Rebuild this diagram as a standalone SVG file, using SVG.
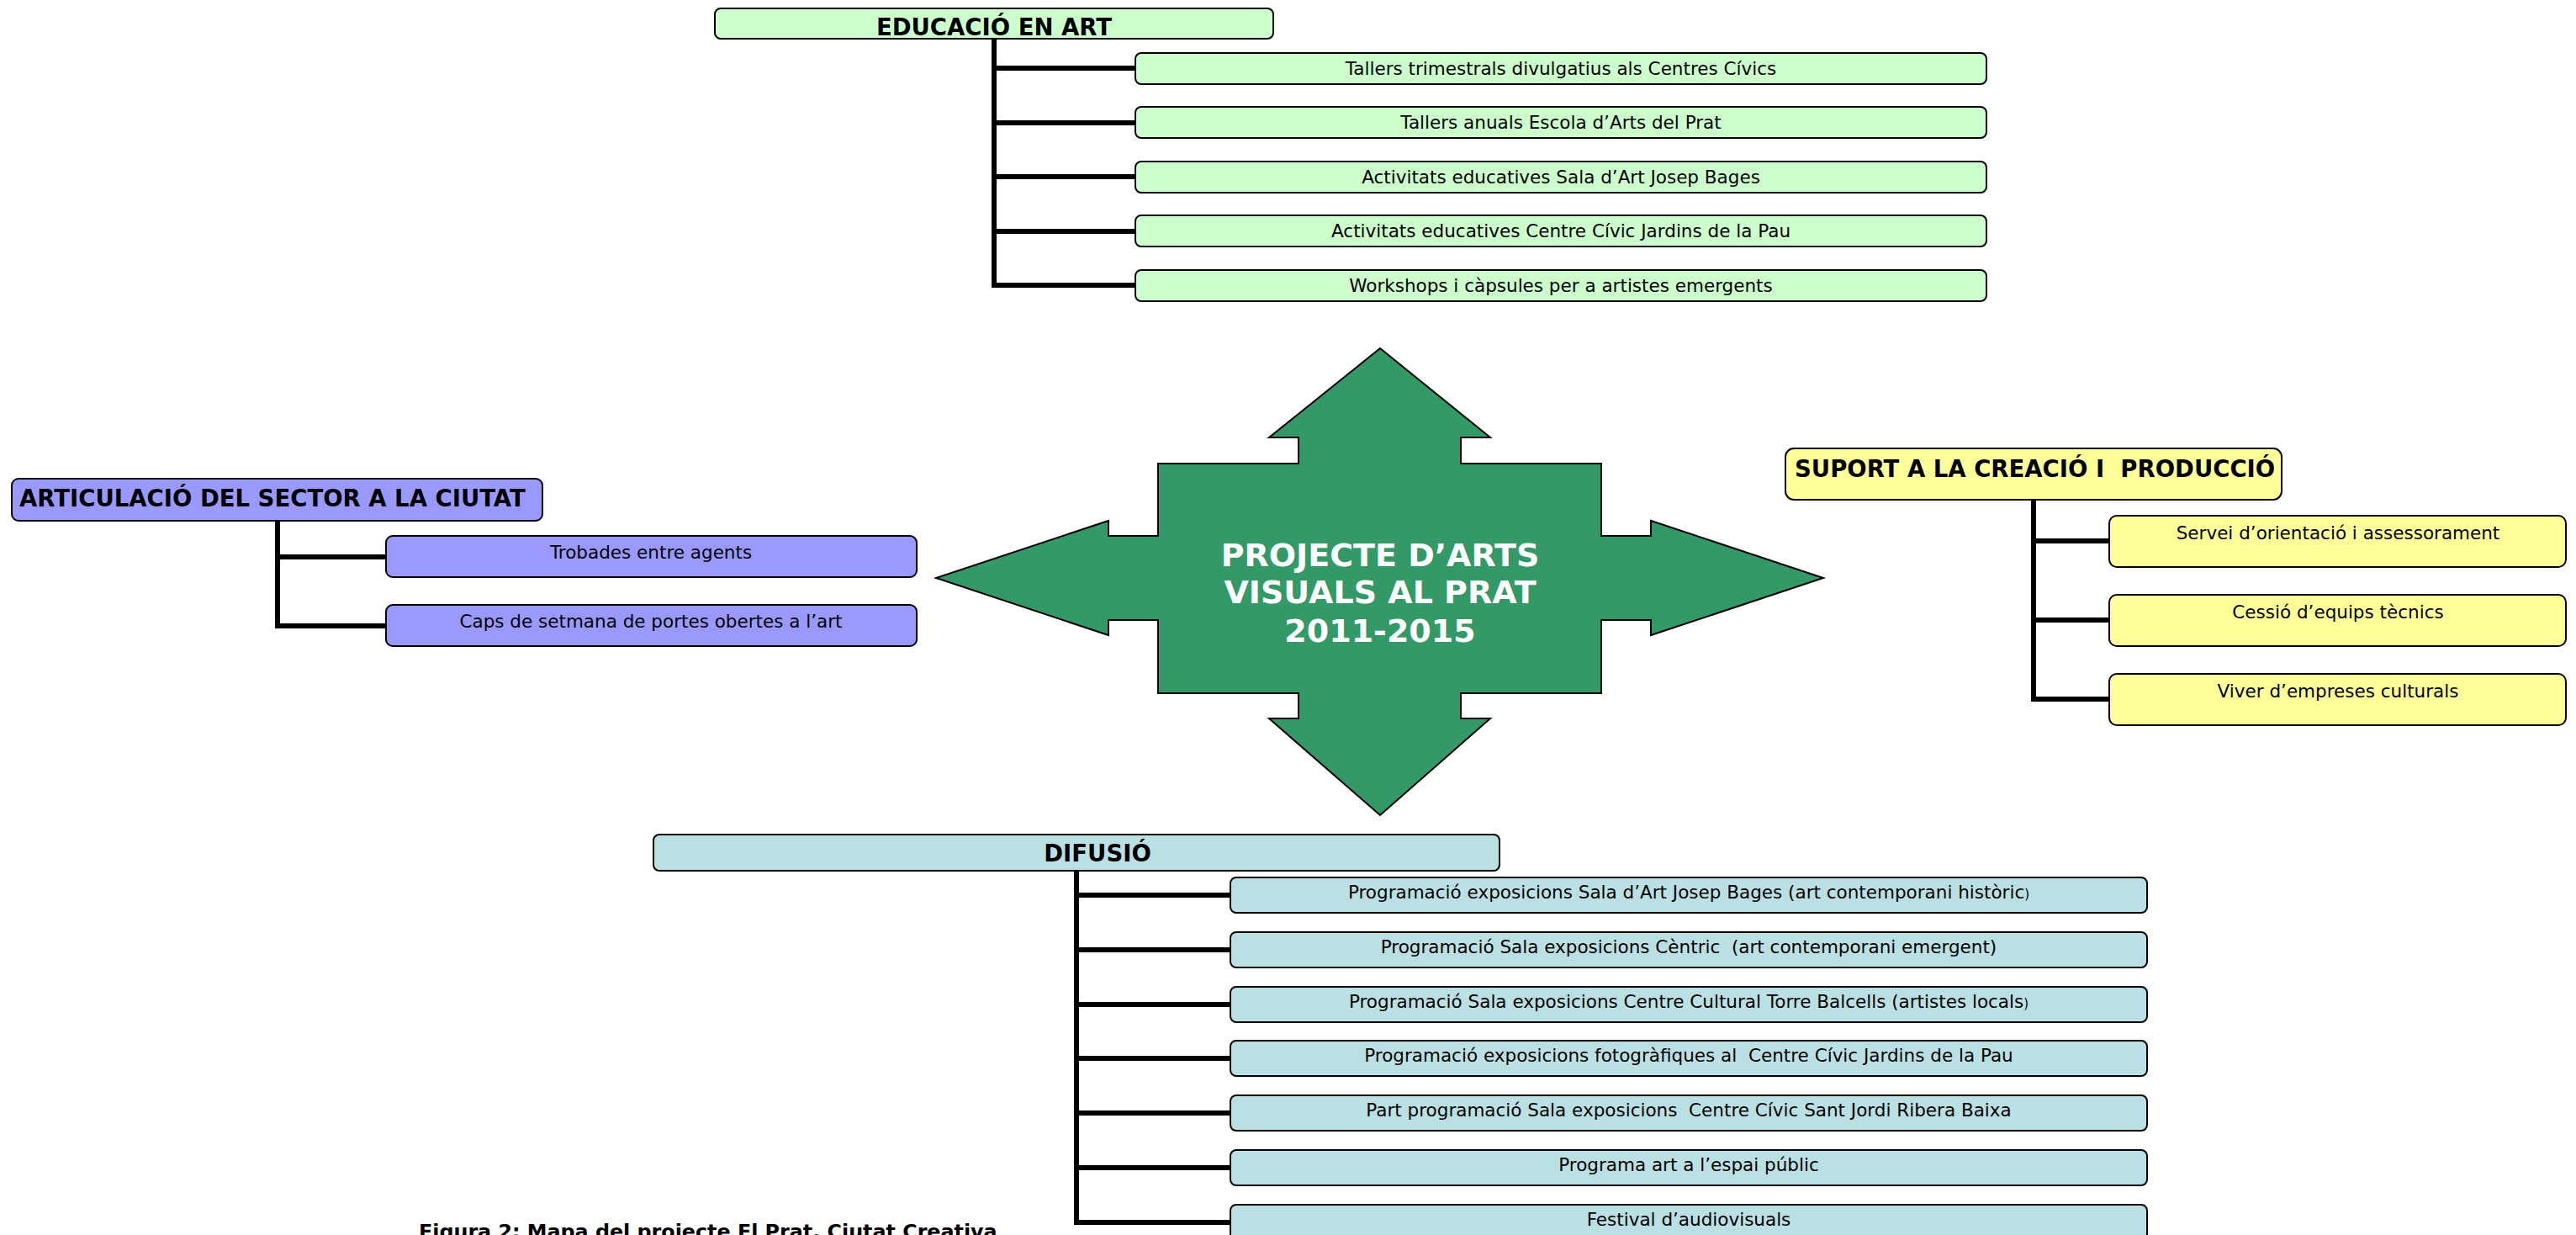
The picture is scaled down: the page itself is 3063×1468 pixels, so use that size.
<svg xmlns="http://www.w3.org/2000/svg" width="3063" height="1468" viewBox="0 0 3063 1468">
<style>
text{font-family:"DejaVu Sans","Verdana",sans-serif;fill:#000;white-space:pre}
.h{font-weight:bold;font-size:27.5px}
.c{font-size:21.5px;text-anchor:middle}
.box{stroke:#000;stroke-width:2}
.edu{fill:#CCFFCC}
.art{fill:#9999FF}
.sup{fill:#FFFF99}
.dif{fill:#BBE0E3}
.conn line{stroke:#000;stroke-width:6}
.ctr{font-weight:bold;font-size:38px;fill:#fff;text-anchor:middle}
.cap{font-weight:bold;font-size:23.8px}
</style>
<rect width="3063" height="1468" fill="#fff"/>
<g id="connectors" class="conn">
<line x1="1182" y1="45" x2="1182" y2="342"/>
<line x1="1179" y1="81" x2="1350" y2="81"/>
<line x1="1179" y1="146" x2="1350" y2="146"/>
<line x1="1179" y1="210" x2="1350" y2="210"/>
<line x1="1179" y1="275" x2="1350" y2="275"/>
<line x1="1179" y1="339" x2="1350" y2="339"/>
<line x1="330" y1="617" x2="330" y2="747"/>
<line x1="327" y1="662" x2="459" y2="662"/>
<line x1="327" y1="744" x2="459" y2="744"/>
<line x1="2418" y1="594" x2="2418" y2="834"/>
<line x1="2415" y1="643" x2="2508" y2="643"/>
<line x1="2415" y1="737" x2="2508" y2="737"/>
<line x1="2415" y1="831" x2="2508" y2="831"/>
<line x1="1280" y1="1035" x2="1280" y2="1456"/>
<line x1="1277" y1="1064" x2="1463" y2="1064"/>
<line x1="1277" y1="1129" x2="1463" y2="1129"/>
<line x1="1277" y1="1194" x2="1463" y2="1194"/>
<line x1="1277" y1="1258" x2="1463" y2="1258"/>
<line x1="1277" y1="1323" x2="1463" y2="1323"/>
<line x1="1277" y1="1388" x2="1463" y2="1388"/>
<line x1="1277" y1="1453" x2="1463" y2="1453"/>
</g>
<g id="center">
<polygon points="1641,414 1772,520 1737,520 1737,551 1904,551 1904,637 1963,637 1963,619 2168,687 1963,755 1963,737 1904,737 1904,824 1737,824 1737,854 1772,854 1641,969 1509,854 1544,854 1544,824 1377,824 1377,737 1318,737 1318,755 1113,687 1318,619 1318,637 1377,637 1377,551 1544,551 1544,520 1509,520" fill="#339966" stroke="#000" stroke-width="2"/>
<text class="ctr" x="1641" y="673">PROJECTE D’ARTS</text>
<text class="ctr" x="1641" y="717">VISUALS AL PRAT</text>
<text class="ctr" x="1641" y="763">2011-2015</text>
</g>
<g id="educacio">
<rect class="box edu" x="850" y="10" width="664" height="36" rx="7"/>
<text class="h" x="1182" y="42" text-anchor="middle">EDUCACIÓ EN ART</text>
</g>
<g id="edu1"><rect class="box edu" x="1350" y="63" width="1012" height="37" rx="7"/><text class="c" x="1856" y="89">Tallers trimestrals divulgatius als Centres Cívics</text></g>
<g id="edu2"><rect class="box edu" x="1350" y="127" width="1012" height="37" rx="7"/><text class="c" x="1856" y="153">Tallers anuals Escola d’Arts del Prat</text></g>
<g id="edu3"><rect class="box edu" x="1350" y="192" width="1012" height="37" rx="7"/><text class="c" x="1856" y="218">Activitats educatives Sala d’Art Josep Bages</text></g>
<g id="edu4"><rect class="box edu" x="1350" y="256" width="1012" height="37" rx="7"/><text class="c" x="1856" y="282">Activitats educatives Centre Cívic Jardins de la Pau</text></g>
<g id="edu5"><rect class="box edu" x="1350" y="321" width="1012" height="37" rx="7"/><text class="c" x="1856" y="347">Workshops i càpsules per a artistes emergents</text></g>
<g id="articulacio">
<rect class="box art" x="14" y="569" width="631" height="50" rx="8"/>
<text class="h" x="23" y="602">ARTICULACIÓ DEL SECTOR A LA CIUTAT</text>
</g>
<g id="art1"><rect class="box art" x="459" y="637" width="631" height="49" rx="8"/><text class="c" x="774" y="664">Trobades entre agents</text></g>
<g id="art2"><rect class="box art" x="459" y="719" width="631" height="49" rx="8"/><text class="c" x="774" y="746">Caps de setmana de portes obertes a l’art</text></g>
<g id="suport">
<rect class="box sup" x="2123" y="533" width="590" height="61" rx="10"/>
<text class="h" x="2134" y="567">SUPORT A LA CREACIÓ I  PRODUCCIÓ</text>
</g>
<g id="sup1"><rect class="box sup" x="2508" y="613" width="543" height="61" rx="9"/><text class="c" x="2780" y="641">Servei d’orientació i assessorament</text></g>
<g id="sup2"><rect class="box sup" x="2508" y="707" width="543" height="61" rx="9"/><text class="c" x="2780" y="735">Cessió d’equips tècnics</text></g>
<g id="sup3"><rect class="box sup" x="2508" y="801" width="543" height="61" rx="9"/><text class="c" x="2780" y="829">Viver d’empreses culturals</text></g>
<g id="difusio">
<rect class="box dif" x="777" y="992" width="1006" height="43" rx="7"/>
<text class="h" x="1305" y="1024" text-anchor="middle">DIFUSIÓ</text>
</g>
<g id="dif1"><rect class="box dif" x="1463" y="1043" width="1090" height="42" rx="7"/><text class="c" x="2008" y="1068">Programació exposicions Sala d’Art Josep Bages (art contemporani històric<tspan font-size="15">)</tspan></text></g>
<g id="dif2"><rect class="box dif" x="1463" y="1108" width="1090" height="42" rx="7"/><text class="c" x="2008" y="1133">Programació Sala exposicions Cèntric  (art contemporani emergent)</text></g>
<g id="dif3"><rect class="box dif" x="1463" y="1173" width="1090" height="42" rx="7"/><text class="c" x="2008" y="1198">Programació Sala exposicions Centre Cultural Torre Balcells (artistes locals<tspan font-size="15">)</tspan></text></g>
<g id="dif4"><rect class="box dif" x="1463" y="1237" width="1090" height="42" rx="7"/><text class="c" x="2008" y="1262">Programació exposicions fotogràfiques al  Centre Cívic Jardins de la Pau</text></g>
<g id="dif5"><rect class="box dif" x="1463" y="1302" width="1090" height="42" rx="7"/><text class="c" x="2008" y="1327">Part programació Sala exposicions  Centre Cívic Sant Jordi Ribera Baixa</text></g>
<g id="dif6"><rect class="box dif" x="1463" y="1367" width="1090" height="42" rx="7"/><text class="c" x="2008" y="1392">Programa art a l’espai públic</text></g>
<g id="dif7"><rect class="box dif" x="1463" y="1432" width="1090" height="42" rx="7"/><text class="c" x="2008" y="1457">Festival d’audiovisuals</text></g>
<text class="cap" x="498" y="1472">Figura 2: Mapa del projecte El Prat, Ciutat Creativa</text>
</svg>
